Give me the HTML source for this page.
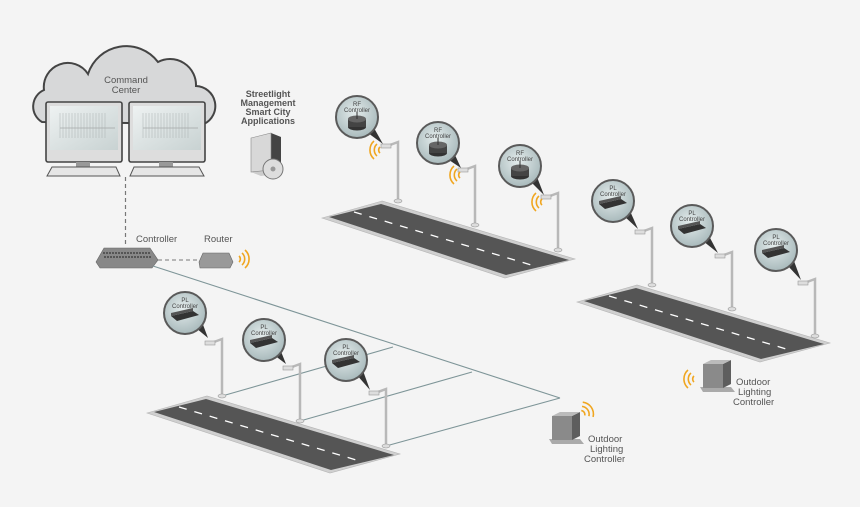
<!DOCTYPE html>
<html><head><meta charset="utf-8"><style>
html,body{margin:0;padding:0;background:#f4f4f4;}
svg{display:block;font-family:"Liberation Sans",sans-serif;}
</style></head><body>
<svg width="860" height="507" viewBox="0 0 860 507" xmlns="http://www.w3.org/2000/svg">
<defs>
<radialGradient id="bub" cx="45%" cy="40%" r="60%"><stop offset="0" stop-color="#e4ecec"/><stop offset="1" stop-color="#a9babc"/></radialGradient>
<linearGradient id="scr" x1="0" y1="0" x2="1" y2="1"><stop offset="0" stop-color="#eef2f2"/><stop offset="1" stop-color="#c8d2d2"/></linearGradient>
<g id="road">
<polygon points="0,0 60,-17 253,41 183,60" fill="#cfcfcf" stroke="#b5b5b5" stroke-width="0.6"/>
<polygon points="7,-1 59,-14 247,42 184,57" fill="#555"/>
<line x1="32" y1="-6" x2="216" y2="49" stroke="#fff" stroke-width="1.3" stroke-dasharray="8 8"/>
</g>
<g id="pl">
<circle r="21" fill="url(#bub)" stroke="#5a5a5a" stroke-width="2"/>
<polygon points="-14,3 8,-2 14,2 -8,8" fill="#333"/>
<polygon points="-14,3 8,-2 8,-5 -14,0" fill="#555"/>
</g>
<g id="rf">
<circle r="21" fill="url(#bub)" stroke="#5a5a5a" stroke-width="2"/>
<ellipse cx="0" cy="10" rx="9" ry="3.5" fill="#333"/>
<rect x="-9" y="2" width="18" height="8" fill="#444"/>
<ellipse cx="0" cy="2" rx="9" ry="3.5" fill="#666"/>
<line x1="0" y1="2" x2="0" y2="-5" stroke="#333"/>
</g>
<g id="wave" fill="none" stroke="#f0a620" stroke-width="1.6">
<path d="M0,-3 a4,4 0 0 1 0,6"/><path d="M3,-6 a8,8 0 0 1 0,12"/><path d="M6,-9 a12,12 0 0 1 0,18"/>
</g>
<g id="box">
<polygon points="-3,28 28,28 32,33 0,33" fill="#aaa"/>
<rect x="0" y="5" width="20" height="24" fill="#8a8a8a"/>
<polygon points="20,5 28,1 28,25 20,29" fill="#5e5e5e"/>
<polygon points="0,5 8,1 28,1 20,5" fill="#bbb"/>
</g>
</defs>

<!-- Cloud -->
<path d="M42,122 A18,18 0 0 1 44,90 A24,24 0 0 1 88,74 A40,40 0 0 1 158,62 A26,26 0 0 1 196,86 A20,20 0 0 1 204,124 Z" fill="#d7d8d9" stroke="#444" stroke-width="2"/>
<text x="126" y="83" font-size="9.5" fill="#555" text-anchor="middle">Command</text>
<text x="126" y="93" font-size="9.5" fill="#555" text-anchor="middle">Center</text>
<!-- monitors -->
<g>
<rect x="46" y="102" width="76" height="60" rx="2" fill="#ddd" stroke="#444" stroke-width="1.6"/>
<rect x="50" y="106" width="68" height="44" fill="url(#scr)"/>
<line x1="60" y1="128" x2="115" y2="128" stroke="#888" stroke-width="0.5"/>
<path d="M60,113 v25 M63,113 v25 M66,113 v25 M69,113 v25 M72,113 v25 M75,113 v25 M78,113 v25 M81,113 v25 M84,113 v25 M87,113 v25 M90,113 v25 M93,113 v25 M96,113 v25 M99,113 v25 M102,113 v25 M105,113 v25" stroke="#a9b0b0" stroke-width="0.5"/>
<rect x="76" y="162" width="14" height="5" fill="#999"/>
<polygon points="52,167 116,167 120,176 47,176" fill="#e6e6e6" stroke="#555" stroke-width="1"/>
<rect x="129" y="102" width="76" height="60" rx="2" fill="#ddd" stroke="#444" stroke-width="1.6"/>
<rect x="133" y="106" width="68" height="44" fill="url(#scr)"/>
<line x1="143" y1="128" x2="198" y2="128" stroke="#888" stroke-width="0.5"/>
<path d="M143,113 v25 M146,113 v25 M149,113 v25 M152,113 v25 M155,113 v25 M158,113 v25 M161,113 v25 M164,113 v25 M167,113 v25 M170,113 v25 M173,113 v25 M176,113 v25 M179,113 v25 M182,113 v25 M185,113 v25 M188,113 v25" stroke="#a9b0b0" stroke-width="0.5"/>
<rect x="159" y="162" width="14" height="5" fill="#999"/>
<polygon points="134,167 199,167 204,176 130,176" fill="#e6e6e6" stroke="#555" stroke-width="1"/>
</g>
<line x1="125.5" y1="177" x2="125.5" y2="247" stroke="#777" stroke-width="1.2" stroke-dasharray="4 3"/>

<!-- Streetlight mgmt -->
<g font-size="9" font-weight="bold" fill="#555" text-anchor="middle">
<text x="268" y="97">Streetlight</text>
<text x="268" y="106">Management</text>
<text x="268" y="115">Smart City</text>
<text x="268" y="124">Applications</text>
</g>
<polygon points="251,138 271,133 281,137 281,173 261,176 251,172" fill="#ccc"/>
<polygon points="271,133 281,137 281,173 271,170" fill="#444"/>
<polygon points="251,138 271,133 271,170 251,172" fill="#d8d8d8" stroke="#888" stroke-width="0.6"/>
<circle cx="273" cy="169" r="10" fill="#ddd" stroke="#777"/>
<circle cx="273" cy="169" r="2.5" fill="#999"/>

<!-- Controller/router -->
<text x="136" y="242" font-size="9.5" fill="#555">Controller</text>
<text x="204" y="242" font-size="9.5" fill="#555">Router</text>
<polygon points="96,262 104,248 150,248 158,260 152,268 100,268" fill="#888" stroke="#666" stroke-width="0.6"/>
<path d="M103,253 h48 M104,257 h48" stroke="#555" stroke-width="2" stroke-dasharray="2 1"/>
<line x1="158" y1="260" x2="200" y2="260" stroke="#777" stroke-dasharray="4 3"/>
<polygon points="199,262 203,253 229,253 233,262 230,268 200,268" fill="#999" stroke="#666" stroke-width="0.6"/>
<use href="#wave" x="239" y="259"/>

<!-- wires -->
<g stroke="#7e9598" stroke-width="1.1" fill="none">
<line x1="153" y1="266" x2="560" y2="398"/>
<line x1="222" y1="396" x2="393" y2="347"/>
<line x1="300" y1="421" x2="472" y2="372"/>
<line x1="386" y1="446" x2="560" y2="398"/>
</g>

<!-- roads -->
<use href="#road" x="147" y="413"/>
<use href="#road" x="322" y="218"/>
<use href="#road" x="577" y="302"/>

<!-- poles -->
<g stroke="#b8b8b8" stroke-width="2.5" fill="none">
<path d="M222,396 V339 l-8,3"/><path d="M300,421 V364 l-8,3"/><path d="M386,446 V389 l-8,3"/>
<path d="M398,201 V142 l-8,3"/><path d="M475,225 V166 l-8,3"/><path d="M558,250 V193 l-8,3"/>
<path d="M652,285 V228 l-8,3"/><path d="M732,309 V252 l-8,3"/><path d="M815,336 V279 l-8,3"/>
</g>
<g fill="#ddd" stroke="#999" stroke-width="0.6">
<rect x="205" y="341" width="10" height="4"/><rect x="283" y="366" width="10" height="4"/><rect x="369" y="391" width="10" height="4"/>
<rect x="381" y="144" width="10" height="4"/><rect x="458" y="168" width="10" height="4"/><rect x="541" y="195" width="10" height="4"/>
<rect x="635" y="230" width="10" height="4"/><rect x="715" y="254" width="10" height="4"/><rect x="798" y="281" width="10" height="4"/>
<ellipse cx="222" cy="396" rx="4" ry="2"/><ellipse cx="300" cy="421" rx="4" ry="2"/><ellipse cx="386" cy="446" rx="4" ry="2"/>
<ellipse cx="398" cy="201" rx="4" ry="2"/><ellipse cx="475" cy="225" rx="4" ry="2"/><ellipse cx="558" cy="250" rx="4" ry="2"/>
<ellipse cx="652" cy="285" rx="4" ry="2"/><ellipse cx="732" cy="309" rx="4" ry="2"/><ellipse cx="815" cy="336" rx="4" ry="2"/>
</g>

<!-- pointers -->
<g fill="#333">
<polygon points="196,328 202,322 208,338"/><polygon points="274,355 280,349 286,364"/><polygon points="356,374 362,368 370,390"/>
<polygon points="368,133 374,128 383,144"/><polygon points="449,160 455,155 461,168"/><polygon points="531,182 537,177 544,195"/>
<polygon points="624,216 630,211 638,229"/><polygon points="703,241 709,236 718,253"/><polygon points="788,266 794,261 801,280"/>
</g>

<!-- bubbles -->
<use href="#pl" x="185" y="313"/><use href="#pl" x="264" y="340"/><use href="#pl" x="346" y="360"/>
<use href="#rf" x="357" y="117"/><use href="#rf" x="438" y="143"/><use href="#rf" x="520" y="166"/>
<use href="#pl" x="613" y="201"/><use href="#pl" x="692" y="226"/><use href="#pl" x="776" y="250"/>
<g font-size="6" fill="#444" text-anchor="middle">
<text x="185" y="302">PL</text><text x="185" y="308">Controller</text>
<text x="264" y="329">PL</text><text x="264" y="335">Controller</text>
<text x="346" y="349">PL</text><text x="346" y="355">Controller</text>
<text x="357" y="106">RF</text><text x="357" y="112">Controller</text>
<text x="438" y="132">RF</text><text x="438" y="138">Controller</text>
<text x="520" y="155">RF</text><text x="520" y="161">Controller</text>
<text x="613" y="190">PL</text><text x="613" y="196">Controller</text>
<text x="692" y="215">PL</text><text x="692" y="221">Controller</text>
<text x="776" y="239">PL</text><text x="776" y="245">Controller</text>
</g>
<use href="#wave" x="376" y="150" transform="rotate(180 378 150)"/>
<use href="#wave" x="456" y="175" transform="rotate(180 458 175)"/>
<use href="#wave" x="538" y="202" transform="rotate(180 540 202)"/>

<!-- outdoor controllers -->
<use href="#box" x="552" y="411"/>
<use href="#wave" x="583" y="413" transform="rotate(-35 583 413)"/>
<g font-size="9.5" fill="#555"><text x="588" y="442">Outdoor</text><text x="590" y="452">Lighting</text><text x="584" y="462">Controller</text></g>
<use href="#box" x="703" y="359"/>
<use href="#wave" x="694" y="379" transform="rotate(180 694 379)"/>
<g font-size="9.5" fill="#555"><text x="736" y="385">Outdoor</text><text x="738" y="395">Lighting</text><text x="733" y="405">Controller</text></g>
</svg>
</body></html>
